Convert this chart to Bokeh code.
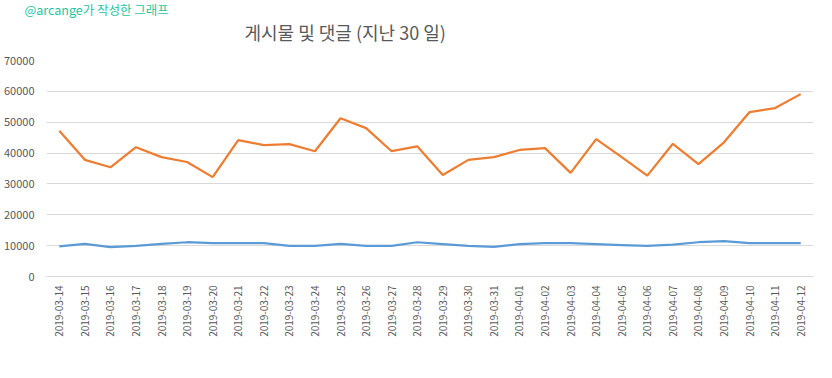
import math
from bokeh.plotting import figure
from bokeh.models import Legend, LegendItem, Title, ColumnDataSource, FixedTicker
from bokeh.embed import file_html
from bokeh.resources import INLINE

dates = ["2019-03-14", "2019-03-15", "2019-03-16", "2019-03-17", "2019-03-18", "2019-03-19",
         "2019-03-20", "2019-03-21", "2019-03-22", "2019-03-23", "2019-03-24", "2019-03-25",
         "2019-03-26", "2019-03-27", "2019-03-28", "2019-03-29", "2019-03-30", "2019-03-31",
         "2019-04-01", "2019-04-02", "2019-04-03", "2019-04-04", "2019-04-05", "2019-04-06",
         "2019-04-07", "2019-04-08", "2019-04-09", "2019-04-10", "2019-04-11", "2019-04-12"]

posts = [9800, 10600, 9500, 9900, 10600, 11100, 10800, 10800, 10800, 9900, 9900, 10600,
         9900, 9900, 11100, 10500, 9900, 9600, 10500, 10800, 10800, 10500, 10200, 9900,
         10300, 11100, 11500, 10800, 10800, 10800]

comments = [47200, 37800, 35400, 41900, 38700, 37100, 32200, 44200, 42600, 42900, 40600, 51300,
            48100, 40600, 42200, 32900, 37800, 38700, 41000, 41600, 33600, 44500, 38700, 32700,
            43000, 36400, 43500, 53300, 54600, 59100]

y_ticks = [0, 10000, 20000, 30000, 40000, 50000, 60000, 70000]

title_text = "게시물 및 댓글 (지난 30 일)"
subtitle_text = "@arcange가 작성한 그래프"
series_names = ["게시물", "의견"]

FONT = "Noto Sans CJK KR"
GRAY = "#595959"

src = ColumnDataSource(dict(d=dates, posts=posts, comments=comments))

p = figure(x_range=dates, y_range=(0, 70000), frame_width=767, frame_height=216,
           output_backend="svg", toolbar_location=None,
           min_border_left=42, min_border_right=7, min_border_top=50, min_border_bottom=0)
p.outline_line_color = None
p.background_fill_color = "white"
p.border_fill_color = "white"

r1 = p.line("d", "posts", source=src, line_color="#5b9bd5", line_width=2.25)
r2 = p.line("d", "comments", source=src, line_color="#ed7d31", line_width=2.25)

p.xgrid.grid_line_color = None
p.ygrid.grid_line_color = "#d9d9d9"
p.ygrid.grid_line_width = 1
p.yaxis.ticker = FixedTicker(ticks=y_ticks)
p.yaxis.axis_line_color = None
p.yaxis.major_tick_line_color = None
p.yaxis.minor_tick_line_color = None
p.yaxis.major_tick_out = 0
p.yaxis.major_label_standoff = 12
p.yaxis.major_label_text_font = FONT
p.yaxis.major_label_text_font_size = "11px"
p.yaxis.major_label_text_color = GRAY

p.xaxis.axis_line_color = "#d9d9d9"
p.xaxis.major_tick_line_color = None
p.xaxis.major_tick_out = 0
p.xaxis.major_label_orientation = math.pi / 2
p.xaxis.major_label_standoff = 9
p.xaxis.major_label_text_font = FONT
p.xaxis.major_label_text_font_size = "10px"
p.xaxis.major_label_text_color = GRAY
p.x_range.range_padding = 0

legend = Legend(items=[LegendItem(label=series_names[0], renderers=[r1]),
                       LegendItem(label=series_names[1], renderers=[r2])],
                orientation="horizontal", location=(308, 19),
                label_text_font=FONT, label_text_font_size="11px", label_text_color=GRAY,
                glyph_width=27, glyph_height=12, label_standoff=3, spacing=16,
                border_line_color=None, background_fill_alpha=0, padding=0, margin=0)
p.add_layout(legend, "below")

p.add_layout(Title(text=title_text, align="left", offset=198,
                   text_font=FONT, text_font_size="18px", text_color=GRAY,
                   text_font_style="normal", standoff=32), "above")
p.add_layout(Title(text=subtitle_text, align="left", offset=-35,
                   text_font=FONT, text_font_size="12.5px", text_color="#1dc7a5",
                   text_font_style="normal", standoff=-37, padding=(13, 0, 0, 0)), "above")

open("out.html", "w").write(file_html(p, INLINE))
